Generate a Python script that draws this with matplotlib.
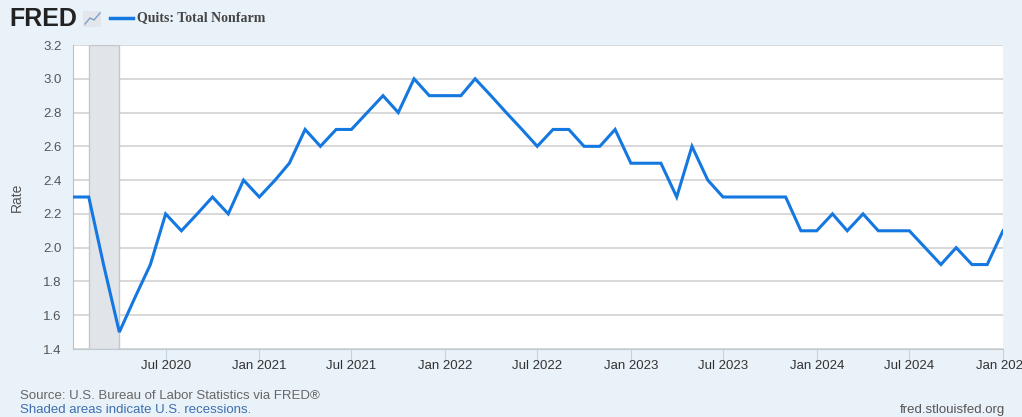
import pandas as pd
import matplotlib.pyplot as plt
import matplotlib.dates as mdates
from matplotlib.lines import Line2D
from matplotlib.patches import Rectangle

# Quits rate, total nonfarm, monthly Jan 2020 .. Jan 2025
start = "2020-01-01"
quits_rate = [
    2.3, 2.3, 1.9, 1.5, 1.7, 1.9, 2.2, 2.1, 2.2, 2.3, 2.2, 2.4,  # 2020
    2.3, 2.4, 2.5, 2.7, 2.6, 2.7, 2.7, 2.8, 2.9, 2.8, 3.0, 2.9,  # 2021
    2.9, 2.9, 3.0, 2.9, 2.8, 2.7, 2.6, 2.7, 2.7, 2.6, 2.6, 2.7,  # 2022
    2.5, 2.5, 2.5, 2.3, 2.6, 2.4, 2.3, 2.3, 2.3, 2.3, 2.3, 2.1,  # 2023
    2.1, 2.2, 2.1, 2.2, 2.1, 2.1, 2.1, 2.0, 1.9, 2.0, 1.9, 1.9,  # 2024
    2.1,                                                         # 2025
]
recession = ("2020-02-01", "2020-04-01")
y_ticks = [1.4, 1.6, 1.8, 2.0, 2.2, 2.4, 2.6, 2.8, 3.0, 3.2]

dates = pd.date_range(start, periods=len(quits_rate), freq="MS")
df = pd.DataFrame({"date": dates, "rate": quits_rate})

bg = "#e9f1f9"
blue = "#1478e0"
plt.rcParams["font.family"] = ["Liberation Sans", "DejaVu Sans"]

fig = plt.figure(figsize=(10.22, 4.17), dpi=100, facecolor=bg)
ax = fig.add_axes([73 / 1022, 1 - 349 / 417, 930 / 1022, 304 / 417])
ax.set_facecolor("white")

# recession band
ax.axvspan(pd.Timestamp(recession[0]), pd.Timestamp(recession[1]),
           facecolor="#e1e5ea", edgecolor="#c3c7cc", linewidth=1, zorder=1)

ax.plot(df["date"], df["rate"], color=blue, linewidth=2.2, zorder=3,
        solid_joinstyle="miter")

ax.set_xlim(dates[0], dates[-1])
ax.set_ylim(1.4, 3.2)
ax.set_yticks(y_ticks)
ax.set_yticklabels([f"{v:.1f}" for v in y_ticks])
ax.yaxis.grid(True, color="#d2d2d2", linewidth=1.2, zorder=0)
ax.set_axisbelow(True)

ax.xaxis.set_major_locator(mdates.MonthLocator(bymonth=[1, 7]))
ax.xaxis.set_major_formatter(mdates.DateFormatter("%b %Y"))
ax.set_xticks([d for d in ax.get_xticks() if d > mdates.date2num(dates[0])])

ax.tick_params(axis="y", length=0, labelsize=9.5, labelcolor="#555555", pad=8)
ax.tick_params(axis="x", length=9, width=0.8, color="#c8d2dc",
               labelsize=9.5, labelcolor="#333333", pad=-1)

for side in ["top", "right"]:
    ax.spines[side].set_visible(False)
ax.spines["left"].set_color("#c0c0c0")
ax.spines["bottom"].set_color("#c0c8d0")

ax.set_ylabel("Rate", fontsize=10, color="#555555", labelpad=14)

# header: logo + legend
fig.text(9 / 1022, 1 - 19 / 417, "FRED", fontsize=18, fontweight="heavy",
         color="#222222", va="center", ha="left")
fig.patches.append(Rectangle((83 / 1022, 1 - 27 / 417), 18 / 1022, 16 / 417,
                             transform=fig.transFigure, facecolor="#e3e6ea",
                             edgecolor="none"))
fig.lines.append(Line2D([85 / 1022, 90 / 1022, 94 / 1022, 100 / 1022],
                        [1 - 24 / 417, 1 - 18 / 417, 1 - 20 / 417, 1 - 13 / 417],
                        transform=fig.transFigure, color="#7aa0c8", linewidth=1))
fig.lines.append(Line2D([110 / 1022, 133 / 1022], [1 - 18 / 417, 1 - 18 / 417],
                        transform=fig.transFigure, color=blue, linewidth=2.5))
fig.text(137 / 1022, 1 - 18 / 417, "Quits: Total Nonfarm", fontsize=10,
         fontweight="bold", family=["Liberation Serif", "DejaVu Serif"],
         color="#444444", va="center", ha="left")

# footer
fig.text(20 / 1022, 1 - 396 / 417, "Source: U.S. Bureau of Labor Statistics via FRED\u00ae",
         fontsize=9.5, color="#666666", va="center")
fig.text(20 / 1022, 1 - 410 / 417, "Shaded areas indicate U.S. recessions.",
         fontsize=9.5, color="#3d6fae", va="center")
fig.text(1005 / 1022, 1 - 410 / 417, "fred.stlouisfed.org",
         fontsize=9.5, color="#555555", va="center", ha="right")

fig.savefig("out.png", dpi=100, facecolor=bg)
